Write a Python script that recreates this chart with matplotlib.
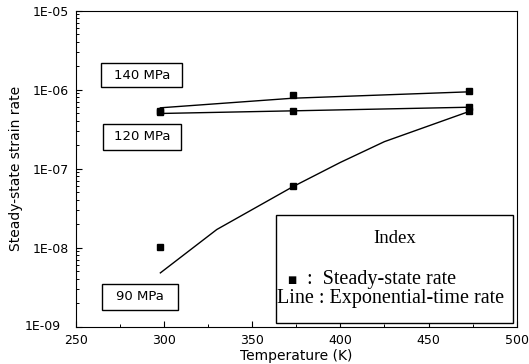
import matplotlib
matplotlib.use("Agg")
import matplotlib.pyplot as plt
import matplotlib.transforms as mtransforms
from matplotlib.ticker import LogLocator, FixedLocator, NullFormatter, FixedFormatter
from matplotlib.patches import Rectangle

# Data
temps = [298, 373, 473]
rate_140 = [5.3e-7, 8.6e-7, 9.5e-7]
rate_120 = [5.2e-7, 5.4e-7, 6.1e-7]
rate_90 = [1.03e-8, 6.0e-8, 5.3e-7]

line_140_T = [298, 373, 473]
line_140 = [5.9e-7, 7.8e-7, 9.4e-7]
line_120_T = [298, 373, 473]
line_120 = [5.0e-7, 5.4e-7, 6.0e-7]
line_90_T = [298, 330, 373, 400, 425, 473]
line_90 = [4.8e-9, 1.7e-8, 5.9e-8, 1.2e-7, 2.2e-7, 5.3e-7]

labels = ["140 MPa", "120 MPa", "90 MPa"]
# label boxes in axes fraction: (x0, y0, x1, y1)
label_boxes = [(0.0585, 0.757, 0.241, 0.8345),
               (0.0619, 0.559, 0.239, 0.642),
               (0.059, 0.053, 0.232, 0.135)]

xticks = [250, 300, 350, 400, 450, 500]
yticks = [1e-9, 1e-8, 1e-7, 1e-6, 1e-5]
ytick_labels = ["1E-09", "1E-08", "1E-07", "1E-06", "1E-05"]

W, H = 529, 364
L, R, T, B = 75.7, 516.7, 10.7, 326.7
fig = plt.figure(figsize=(W / 100, H / 100), dpi=100)
ax = fig.add_axes([L / W, 1 - B / H, (R - L) / W, (B - T) / H])

for Tv, v in [(line_140_T, line_140), (line_120_T, line_120), (line_90_T, line_90)]:
    ax.plot(Tv, v, color="black", lw=1.0)
for v in [rate_140, rate_120, rate_90]:
    ax.plot(temps, v, ls="none", marker="s", ms=4.2, color="black")

ax.set_yscale("log")
ax.set_xlim(250, 500)
ax.set_ylim(1e-9, 1e-5)
ax.set_xticks(xticks)
ax.xaxis.set_minor_locator(FixedLocator([275, 325, 375, 425, 475]))
ax.yaxis.set_major_locator(FixedLocator(yticks))
ax.yaxis.set_major_formatter(FixedFormatter(ytick_labels))
ax.yaxis.set_minor_locator(LogLocator(base=10, subs=range(2, 10)))
ax.yaxis.set_minor_formatter(NullFormatter())
ax.tick_params(which="both", direction="in", labelsize=9)
ax.tick_params(which="major", length=4, width=0.8)
ax.tick_params(which="minor", length=2.5, width=0.7)
ax.tick_params(axis="x", pad=5)
ax.tick_params(axis="y", pad=5)

ax.set_xlabel("Temperature (K)", fontsize=10, labelpad=1.5)
ax.set_ylabel("Steady-state strain rate", fontsize=10, labelpad=1)

fig.canvas.draw()
lab0 = ax.get_yticklabels()[0]
lab0.set_transform(lab0.get_transform() +
                   mtransforms.ScaledTranslation(-8 / 100, 2 / 100, fig.dpi_scale_trans))

for lab, (x0, y0, x1, y1) in zip(labels, label_boxes):
    ax.add_patch(Rectangle((x0, y0), x1 - x0, y1 - y0, transform=ax.transAxes,
                           fc="white", ec="black", lw=1.0, zorder=3))
    ax.text((x0 + x1) / 2, (y0 + y1) / 2, lab, transform=ax.transAxes, fontsize=9.5,
            ha="center", va="center", zorder=4)

# Index box
ax.add_patch(Rectangle((0.454, 0.0127), 0.538, 0.340, transform=ax.transAxes,
                       fc="white", ec="black", lw=1.0, zorder=3))
ax.text(0.724, (B - 238.3) / (B - T), "Index", transform=ax.transAxes, fontsize=13.5,
        family="Liberation Serif", ha="center", va="center", zorder=4)
ax.text((291.5 - L) / (R - L), (B - 279.5) / (B - T), "\u25a0", transform=ax.transAxes,
        fontsize=7, family="DejaVu Sans", ha="center", va="center", zorder=4)
ax.text((307 - L) / (R - L), (B - 279.5) / (B - T), ":  Steady-state rate",
        transform=ax.transAxes, fontsize=14.5, family="Liberation Serif",
        ha="left", va="center", zorder=4)
ax.text((277 - L) / (R - L), (B - 298) / (B - T), "Line : Exponential-time rate",
        transform=ax.transAxes, fontsize=14.5, family="Liberation Serif",
        ha="left", va="center", zorder=4)

fig.savefig("out.png", dpi=100)
